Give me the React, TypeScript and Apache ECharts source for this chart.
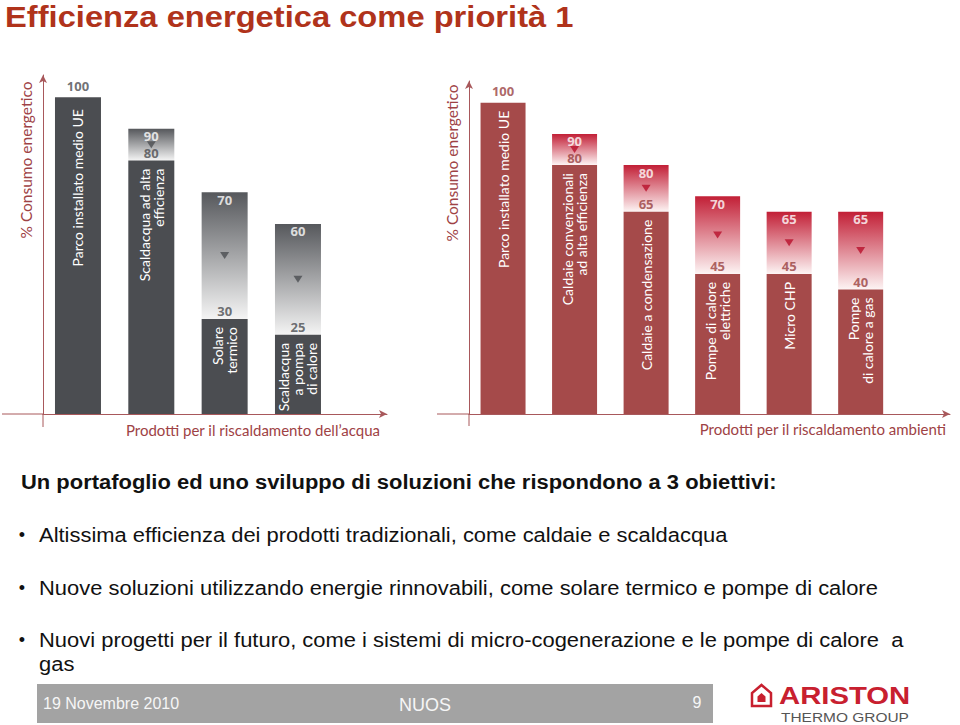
import React, { useEffect, useRef } from "react";
import * as echarts from "echarts";

// ---- Data ----
const waterCategories = [
  "Parco installato medio UE",
  "Scaldacqua ad alta\nefficienza",
  "Solare\ntermico",
  "Scaldacqua\na pompa\ndi calore",
];
const waterBefore = [100, 90, 70, 60];
const waterAfter = [100, 80, 30, 25];

const heatCategories = [
  "Parco installato medio UE",
  "Caldaie convenzionali\nad alta efficienza",
  "Caldaie a condensazione",
  "Pompe di calore\nelettriche",
  "Micro CHP",
  "Pompe\ndi calore a gas",
];
const heatBefore = [100, 90, 80, 70, 65, 65];
const heatAfter = [100, 80, 65, 45, 45, 40];

const yAxisTitle = "% Consumo energetico";
const waterAxisTitle = "Prodotti per il riscaldamento dell\u2019acqua";
const heatAxisTitle = "Prodotti per il riscaldamento ambienti";

const slideTitle = "Efficienza energetica come priorit\u00e0 1";
const subTitle = "Un portafoglio ed uno sviluppo di soluzioni che rispondono a 3 obiettivi:";
const bullets = [
  "Altissima efficienza dei prodotti tradizionali, come caldaie e scaldacqua",
  "Nuove soluzioni utilizzando energie rinnovabili, come solare termico e pompe di calore",
  "Nuovi progetti per il futuro, come i sistemi di micro-cogenerazione e le pompe di calore  a",
];
const bulletContinuation = "gas";
const footerDate = "19 Novembre 2010";
const footerCenter = "NUOS";
const footerPage = "9";

const AXIS_COLOR = "#a8585b";
const TITLE_COLOR = "#9e4245";

function buildSeries(
  g: number,
  cats: string[],
  before: number[],
  after: number[],
  pal: { base: string; top: string; bottom: string; tri: string; num: string },
  barWidth: number,
  firstDist: number
) {
  const base = {
    type: "bar",
    xAxisIndex: g,
    yAxisIndex: g,
    barWidth,
    silent: true,
    itemStyle: { color: pal.base },
    data: after.map((v, i) => ({
      value: [i, v],
      label: { distance: i === 0 ? firstDist : 8 },
    })),
    label: {
      show: true,
      position: "insideTop",
      rotate: 90,
      align: "right",
      verticalAlign: "middle",
      color: "#ffffff",
      fontFamily: "Lato",
      fontSize: 14,
      lineHeight: 14,
      formatter: (p: any) => cats[p.dataIndex],
    },
  };
  const gradientData: number[][] = [];
  before.forEach((v, i) => {
    if (v > after[i]) gradientData.push([i, v, after[i]]);
  });
  const grad = {
    type: "custom",
    xAxisIndex: g,
    yAxisIndex: g,
    silent: true,
    encode: { x: 0, y: [1, 2] },
    data: gradientData,
    renderItem: (params: any, api: any) => {
      const x = api.value(0);
      const top = api.coord([x, api.value(1)]);
      const bot = api.coord([x, api.value(2)]);
      return {
        type: "rect",
        shape: {
          x: top[0] - barWidth / 2,
          y: top[1],
          width: barWidth,
          height: bot[1] - top[1],
        },
        style: {
          fill: new echarts.graphic.LinearGradient(0, 0, 0, 1, [
            { offset: 0, color: pal.top },
            { offset: 1, color: pal.bottom },
          ]),
        },
      };
    },
  };
  const tri = {
    type: "scatter",
    xAxisIndex: g,
    yAxisIndex: g,
    silent: true,
    symbol: "triangle",
    symbolRotate: 180,
    symbolSize: [9, 7],
    itemStyle: { color: pal.tri },
    data: gradientData.map((d) => [d[0], (d[1] + d[2]) / 2]),
  };
  const nums = {
    type: "scatter",
    xAxisIndex: g,
    yAxisIndex: g,
    silent: true,
    symbolSize: 0,
    data: after.map((v, i) => ({
      value: [i, v],
      label: { distance: before[i] > v ? 1 : 5 },
    })),
    label: {
      show: true,
      position: "top",
      color: pal.num,
      fontFamily: "Open Sans",
      fontWeight: "bold",
      fontSize: 13,
      formatter: (p: any) => String(after[p.dataIndex]),
    },
  };
  const topNums = {
    type: "scatter",
    xAxisIndex: g,
    yAxisIndex: g,
    silent: true,
    symbolSize: 0,
    data: gradientData.map((d) => [d[0], d[1]]),
    label: {
      show: true,
      position: "bottom",
      distance: 1,
      color: "#ffffff",
      fontFamily: "Open Sans",
      fontWeight: "bold",
      fontSize: 13,
      formatter: (p: any) => String(p.value[1]),
    },
  };
  return [base, grad, tri, nums, topNums];
}

function axisPair(g: number, xmin: number, xmax: number) {
  const line = {
    show: true,
    onZero: false,
    lineStyle: { color: AXIS_COLOR, width: 1 },
    symbol: ["none", "arrow"],
    symbolSize: [6, 8],
  };
  return {
    x: {
      type: "value",
      gridIndex: g,
      min: xmin,
      max: xmax,
      axisLine: line,
      axisTick: { show: false },
      axisLabel: { show: false },
      splitLine: { show: false },
    },
    y: {
      type: "value",
      gridIndex: g,
      min: 0,
      max: 107,
      axisLine: line,
      axisTick: { show: false },
      axisLabel: { show: false },
      splitLine: { show: false },
    },
  };
}

export default function App() {
  const ref = useRef<HTMLDivElement>(null);
  useEffect(() => {
    if (!ref.current) return;
    const chart = echarts.init(ref.current, null, { renderer: "svg" });
    const a0 = axisPair(0, -0.477, 4.214);
    const a1 = axisPair(1, -0.476, 6.249);
    const extLine = (x1: number, y1: number, x2: number, y2: number) => ({
      type: "line",
      shape: { x1, y1, x2, y2 },
      style: { stroke: AXIS_COLOR, lineWidth: 1 },
      silent: true,
    });
    const txt = (
      x: number,
      y: number,
      text: string,
      style: any,
      extra: any = {}
    ) => ({
      type: "text",
      x,
      y,
      silent: true,
      style: { text, ...style },
      ...extra,
    });
    const bodyFont = { fontFamily: "Liberation Sans, Arial", fill: "#111111" };

    const graphics: any[] = [
      // title
      txt(5, 17, slideTitle, {
        fontFamily: "Liberation Sans, Arial",
        fontWeight: "bold",
        fontSize: 30,
        fill: "#b0331b",
        verticalAlign: "middle",
      }, { scaleX: 1.09 }),
      // axis extensions
      extLine(2, 414, 43, 414),
      extLine(43, 414, 43, 427),
      extLine(437, 414, 469, 414),
      extLine(469, 414, 469, 426),
      // axis titles
      txt(26, 160, yAxisTitle, {
        fontFamily: "Lato",
        fontSize: 15.5,
        fill: TITLE_COLOR,
        align: "center",
        verticalAlign: "middle",
      }, { rotation: Math.PI / 2 }),
      txt(452, 163, yAxisTitle, {
        fontFamily: "Lato",
        fontSize: 15.5,
        fill: TITLE_COLOR,
        align: "center",
        verticalAlign: "middle",
      }, { rotation: Math.PI / 2 }),
      txt(380, 430, waterAxisTitle, {
        fontFamily: "Lato",
        fontSize: 15,
        fill: TITLE_COLOR,
        align: "right",
        verticalAlign: "middle",
      }),
      txt(946, 429, heatAxisTitle, {
        fontFamily: "Lato",
        fontSize: 15,
        fill: TITLE_COLOR,
        align: "right",
        verticalAlign: "middle",
      }),
      // text block
      txt(21, 482, subTitle, {
        ...bodyFont,
        fontWeight: "bold",
        fontSize: 21,
        verticalAlign: "middle",
      }, { scaleX: 1.045 }),
    ];
    const bulletY = [535, 588, 640];
    bullets.forEach((b, i) => {
      graphics.push(
        txt(22, bulletY[i], "\u2022", { ...bodyFont, fontSize: 18, align: "center", verticalAlign: "middle" })
      );
      graphics.push(
        txt(39, bulletY[i], b, { ...bodyFont, fontSize: 21, verticalAlign: "middle" }, { scaleX: 1.045 })
      );
    });
    graphics.push(
      txt(39, 664, bulletContinuation, { ...bodyFont, fontSize: 21, verticalAlign: "middle" }, { scaleX: 1.045 })
    );
    // footer
    graphics.push({
      type: "rect",
      shape: { x: 37, y: 684, width: 676, height: 39 },
      style: { fill: "#a3a3a3" },
      silent: true,
    });
    graphics.push(
      txt(43, 703, footerDate, {
        fontFamily: "Liberation Sans, Arial",
        fontSize: 16,
        fill: "#f6f6f6",
        verticalAlign: "middle",
      })
    );
    graphics.push(
      txt(425, 705, footerCenter, {
        fontFamily: "Liberation Sans, Arial",
        fontSize: 18,
        fill: "#f6f6f6",
        align: "center",
        verticalAlign: "middle",
      })
    );
    graphics.push(
      txt(697, 702, footerPage, {
        fontFamily: "Liberation Sans, Arial",
        fontSize: 16,
        fill: "#f6f6f6",
        align: "center",
        verticalAlign: "middle",
      })
    );
    // logo
    graphics.push({
      type: "polygon",
      shape: { points: [[752, 706], [752, 693], [761.5, 685], [771, 693], [771, 706]] },
      style: { fill: "none", stroke: "#c8202f", lineWidth: 2.5 },
      silent: true,
    });
    graphics.push({
      type: "polygon",
      shape: { points: [[757.5, 702], [757.5, 696.5], [761.5, 693], [765.5, 696.5], [765.5, 702]] },
      style: { fill: "#c8202f" },
      silent: true,
    });
    graphics.push(
      txt(779, 696, "ARISTON", {
        fontFamily: "Liberation Sans, Arial",
        fontWeight: "bold",
        fontSize: 24,
        fill: "#c8202f",
        verticalAlign: "middle",
      }, { scaleX: 1.22 })
    );
    graphics.push(
      txt(781, 717, "THERMO GROUP", {
        fontFamily: "Liberation Sans, Arial",
        fontSize: 13,
        fill: "#555555",
        verticalAlign: "middle",
      }, { scaleX: 1.19 })
    );

    chart.setOption({
      animation: false,
      backgroundColor: "#ffffff",
      grid: [
        { left: 43, top: 75, width: 344, height: 339, containLabel: false },
        { left: 469, top: 81, width: 481, height: 333, containLabel: false },
      ],
      xAxis: [a0.x, a1.x],
      yAxis: [a0.y, a1.y],
      series: [
        ...buildSeries(
          0,
          waterCategories,
          waterBefore,
          waterAfter,
          { base: "#4b4d51", top: "#56585c", bottom: "#f4f4f4", tri: "#4b4d51", num: "#4b4d51" },
          46,
          12
        ),
        ...buildSeries(
          1,
          heatCategories,
          heatBefore,
          heatAfter,
          { base: "#a54a4a", top: "#c21f36", bottom: "#fdf4f4", tri: "#b8102c", num: "#98403f" },
          45,
          8
        ),
      ],
      graphic: graphics,
    });
    return () => chart.dispose();
  }, []);
  return (
    <div
      ref={ref}
      style={{ position: "absolute", left: 0, top: 0, width: 960, height: 725 }}
    />
  );
}
